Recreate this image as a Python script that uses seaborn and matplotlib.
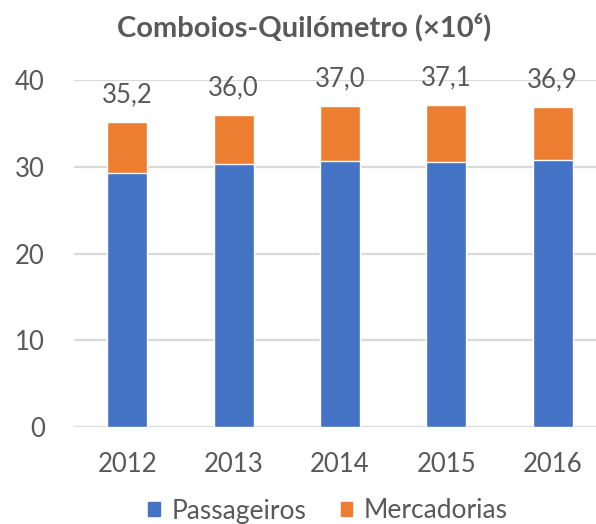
import matplotlib
matplotlib.use("Agg")
import matplotlib.pyplot as plt
import seaborn as sns
import pandas as pd
from matplotlib.patches import Patch

anos = ["2012", "2013", "2014", "2015", "2016"]
passageiros = [29.3, 30.3, 30.7, 30.6, 30.8]
totais = [35.2, 36.0, 37.0, 37.1, 36.9]
rotulos = ["35,2", "36,0", "37,0", "37,1", "36,9"]

azul = "#4472C4"
laranja = "#ED7D31"
cinza = "#595959"

sns.set_style("white")
plt.rcParams["font.family"] = ["Lato", "DejaVu Sans"]

df = pd.DataFrame({"ano": anos, "passageiros": passageiros, "total": totais})

fig = plt.figure(figsize=(5.96, 5.24), dpi=100)
ax = fig.add_axes([74 / 596, 97 / 524, 522 / 596, 347 / 524])

# total bar in orange, passengers on top of it in blue -> stacked look
sns.barplot(data=df, x="ano", y="total", color=laranja, width=0.375,
            saturation=1, edgecolor="white", linewidth=1, ax=ax, zorder=2)
sns.barplot(data=df, x="ano", y="passageiros", color=azul, width=0.375,
            saturation=1, edgecolor="white", linewidth=1, ax=ax, zorder=3)

for i, (t, lab) in enumerate(zip(totais, rotulos)):
    ax.annotate(lab, (i, t), xytext=(0, 14), textcoords="offset points",
                ha="center", va="baseline", fontsize=18.5, color=cinza)

ax.set_xlim(-0.5, 4.5 - 10 / 106.5)
ax.set_ylim(0, 40)
ax.set_yticks([0, 10, 20, 30, 40])
ax.yaxis.grid(True, color="#D9D9D9", linewidth=1.6, zorder=0)
ax.set_axisbelow(True)
for s in ax.spines.values():
    s.set_visible(False)
ax.tick_params(axis="y", length=0, pad=21, labelsize=18.5, labelcolor=cinza)
ax.tick_params(axis="x", length=0, pad=18, labelsize=18.5, labelcolor=cinza)
ax.set_xlabel("")
ax.set_ylabel("")

fig.text(304 / 596, 1 - 27 / 524, "Comboios-Quilómetro (×10⁶)", ha="center",
         va="center", fontsize=21, fontweight="bold", color=cinza,
         family=["Lato", "DejaVu Sans"])

handles = [Patch(color=azul, label="Passageiros"),
           Patch(color=laranja, label="Mercadorias")]
fig.legend(handles=handles, loc="center", bbox_to_anchor=(328 / 596, 1 - 511 / 524),
           ncol=2, frameon=False, fontsize=19, handlelength=0.42, handleheight=0.42,
           handletextpad=0.45, columnspacing=1.3, labelcolor=cinza)

fig.savefig("out.png", dpi=100)
